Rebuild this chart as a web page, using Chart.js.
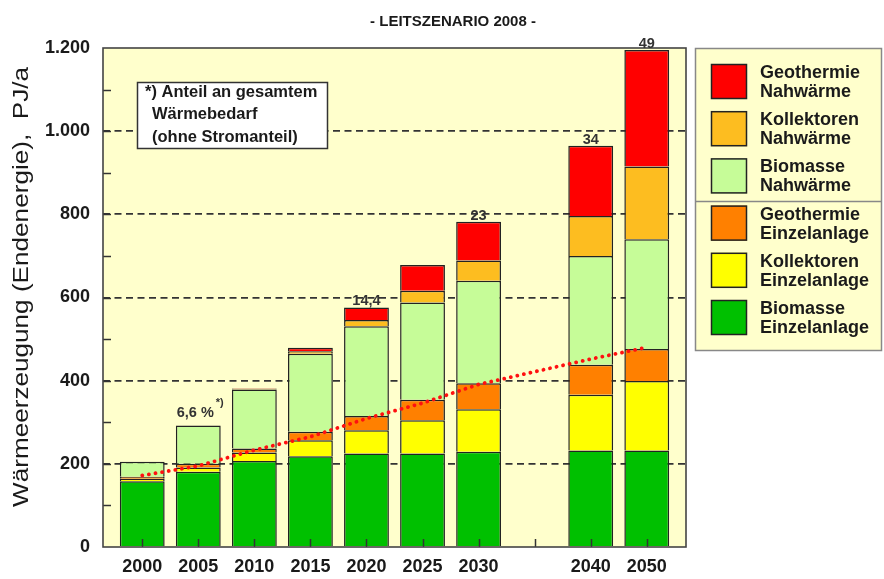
<!DOCTYPE html>
<html>
<head>
<meta charset="utf-8">
<script src="https://cdn.jsdelivr.net/npm/chart.js@4.4.1/dist/chart.umd.min.js"></script>
<style>
  html, body { margin: 0; padding: 0; background: #ffffff; }
  canvas { display: block; }
</style>
</head>
<body>
<canvas id="c" width="884" height="579"></canvas>
<script>
// ---------------- DATA ----------------
const years = ['2000', '2005', '2010', '2015', '2020', '2025', '2030', '2040', '2050'];
const slots = [0, 1, 2, 3, 4, 5, 6, 8, 9];          // 2035 slot left empty
const biomasseEinzel    = [158, 181, 207, 218, 225, 225, 229, 232, 232];
const kollektorenEinzel = [6, 10, 20, 39, 56, 80, 102, 134, 167];
const geothermieEinzel  = [5, 9, 10, 20, 34, 49, 63, 72, 77];
const biomasseNah       = [36, 92, 142, 188, 216, 234, 246, 262, 264];
const kollektorenNah    = [0, 0, 1, 6, 15, 28, 49, 96, 175];
const geothermieNah     = [0, 0, 1, 8, 30, 62, 93, 169, 280];
const trendShare        = [172, 195, 233, 265, 309, 346, 391, 452, 480];
const topLabels         = ['', '6,6 %', '', '', '14,4', '', '23', '34', '49'];
const yTicks            = [0, 200, 400, 600, 800, 1000, 1200];

const seriesNames = [
  ['Biomasse', 'Einzelanlage'],
  ['Kollektoren', 'Einzelanlage'],
  ['Geothermie', 'Einzelanlage'],
  ['Biomasse', 'Nahwärme'],
  ['Kollektoren', 'Nahwärme'],
  ['Geothermie', 'Nahwärme']
];
const seriesValues = [biomasseEinzel, kollektorenEinzel, geothermieEinzel, biomasseNah, kollektorenNah, geothermieNah];
const seriesColors = ['#00c000', '#ffff00', '#ff8000', '#c6fc98', '#fdbd20', '#ff0000'];

const FONT = '"Liberation Sans", Arial, Helvetica, sans-serif';
const pts = arr => arr.map((v, i) => ({ x: slots[i], y: v }));

const datasets = seriesValues.map((vals, k) => ({
  type: 'bar',
  label: seriesNames[k].join(' '),
  data: pts(vals),
  backgroundColor: seriesColors[k],
  borderColor: '#222222',
  borderWidth: 1.5,
  barPercentage: 0.8,
  categoryPercentage: 1.0,
  order: 1
}));
datasets.push({
  type: 'line',
  label: 'Anteil',
  data: pts(trendShare),
  borderColor: '#ff1010',
  borderWidth: 3.8,
  borderDash: [0.1, 6.6],
  borderCapStyle: 'round',
  pointRadius: 0,
  tension: 0,
  fill: false,
  stack: 'trend',
  order: 0
});

const totals = years.map((_, i) => seriesValues.reduce((s, a) => s + a[i], 0));

const deco = {
  id: 'deco',
  beforeDraw(chart) {
    const { ctx, chartArea: a } = chart;
    ctx.save();
    ctx.fillStyle = '#ffffcc';
    ctx.fillRect(a.left, a.top, a.right - a.left, a.bottom - a.top);
    ctx.restore();
  },
  afterDatasetsDraw(chart) {
    const { ctx, chartArea: a, scales } = chart;
    const xs = scales.x, ys = scales.y;
    ctx.save();
    // x tick marks pointing up
    ctx.strokeStyle = '#333';
    ctx.lineWidth = 1.5;
    for (let v = 0; v <= 9; v++) {
      const px = Math.round(xs.getPixelForValue(v)) + 0.5;
      ctx.beginPath(); ctx.moveTo(px, a.bottom); ctx.lineTo(px, a.bottom - 8); ctx.stroke();
    }
    // y minor ticks on left
    for (let v = 100; v < 1200; v += 100) {
      const py = Math.round(ys.getPixelForValue(v)) + 0.5;
      ctx.beginPath(); ctx.moveTo(a.left, py); ctx.lineTo(a.left + 8, py); ctx.stroke();
    }
    // plot border
    ctx.strokeStyle = '#444';
    ctx.lineWidth = 1.6;
    ctx.strokeRect(a.left, a.top, a.right - a.left, a.bottom - a.top);

    // labels above bars
    ctx.fillStyle = '#333';
    ctx.font = 'bold 14.5px ' + FONT;
    ctx.textAlign = 'center';
    ctx.textBaseline = 'alphabetic';
    topLabels.forEach((t, i) => {
      if (!t) return;
      const px = xs.getPixelForValue(slots[i]);
      const py = ys.getPixelForValue(totals[i]);
      if (t.indexOf('%') >= 0) {
        ctx.fillText(t, px - 3, py - 9);
        const w = ctx.measureText(t).width;
        ctx.save();
        ctx.font = 'bold 11px ' + FONT;
        ctx.textAlign = 'left';
        ctx.fillText('*)', px - 3 + w / 2 + 2, py - 20);
        ctx.restore();
      } else {
        ctx.fillText(t, px, py - 2);
      }
    });

    // annotation box
    ctx.fillStyle = '#ffffff';
    ctx.fillRect(137, 82, 190, 66);
    ctx.strokeStyle = '#333';
    ctx.lineWidth = 1.5;
    ctx.strokeRect(137.5, 82.5, 190, 66);
    ctx.fillStyle = '#1a1a1a';
    ctx.font = 'bold 16.5px ' + FONT;
    ctx.textAlign = 'left';
    ctx.textBaseline = 'middle';
    ctx.fillText('*) Anteil an gesamtem', 145, 92);
    ctx.fillText('Wärmebedarf', 152, 114);
    ctx.fillText('(ohne Stromanteil)', 152, 137);
    ctx.restore();
  },
  afterDraw(chart) {
    const { ctx } = chart;
    ctx.save();
    // title
    ctx.fillStyle = '#1a1a1a';
    ctx.font = 'bold 15px ' + FONT;
    ctx.textAlign = 'center';
    ctx.textBaseline = 'middle';
    ctx.fillText('- LEITSZENARIO 2008 -', 453, 22);

    // y axis title (rotated)
    ctx.save();
    ctx.translate(22, 287);
    ctx.rotate(-Math.PI / 2);
    ctx.font = '22px ' + FONT;
    const yt = 'Wärmeerzeugung (Endenergie),  PJ/a';
    const w = ctx.measureText(yt).width;
    ctx.scale(440 / w, 1);
    ctx.fillStyle = '#1a1a1a';
    ctx.textAlign = 'center';
    ctx.textBaseline = 'middle';
    ctx.fillText(yt, 0, 0);
    ctx.restore();

    // legend
    const lx = 695, ly = 48, lw = 187, lh = 302;
    ctx.fillStyle = '#ffffcc';
    ctx.fillRect(lx, ly, lw, lh);
    ctx.strokeStyle = '#888';
    ctx.lineWidth = 1.5;
    ctx.strokeRect(lx + 0.5, ly + 0.5, lw - 1, lh);
    ctx.beginPath(); ctx.moveTo(lx, 201.5); ctx.lineTo(lx + lw, 201.5); ctx.stroke();
    const order = [5, 4, 3, 2, 1, 0];
    order.forEach((k, j) => {
      const top = 64 + j * 47.2;
      ctx.fillStyle = seriesColors[k];
      ctx.fillRect(711, top, 36, 35);
      ctx.strokeStyle = '#222';
      ctx.lineWidth = 1.5;
      ctx.strokeRect(711.5, top + 0.5, 35, 34);
      ctx.fillStyle = '#1a1a1a';
      ctx.font = 'bold 18px ' + FONT;
      ctx.textAlign = 'left';
      ctx.textBaseline = 'middle';
      ctx.fillText(seriesNames[k][0], 760, top + 9);
      ctx.fillText(seriesNames[k][1], 760, top + 28);
    });
    ctx.restore();
  }
};

new Chart(document.getElementById('c'), {
  data: { datasets },
  options: {
    responsive: false,
    animation: false,
    devicePixelRatio: 1,
    layout: { padding: { left: 0, top: 48, right: 198, bottom: 0 } },
    plugins: { legend: { display: false }, tooltip: { enabled: false }, title: { display: false } },
    scales: {
      x: {
        type: 'linear',
        stacked: true,
        offset: false,
        min: -0.7,
        max: 9.7,
        afterFit(s) { s.height = 32; },
        afterBuildTicks(s) { s.ticks = [0, 1, 2, 3, 4, 5, 6, 7, 8, 9].map(v => ({ value: v })); },
        grid: { display: false, drawTicks: false, offset: false },
        border: { display: false },
        ticks: {
          autoSkip: false,
          maxRotation: 0,
          padding: 9,
          color: '#1a1a1a',
          font: { family: FONT, size: 18, weight: 'bold' },
          callback(v) { const i = slots.indexOf(v); return i >= 0 ? years[i] : ''; }
        }
      },
      y: {
        stacked: true,
        min: 0,
        max: 1200,
        afterFit(s) { s.width = 103; },
        afterBuildTicks(s) { s.ticks = yTicks.map(v => ({ value: v })); },
        grid: {
          drawTicks: false,
          lineWidth: 1.8,
          color(c) { const v = c.tick && c.tick.value; return (v === 0 || v === 1200) ? 'rgba(0,0,0,0)' : '#333'; }
        },
        border: { display: false, dash: [7, 4.5] },
        ticks: {
          padding: 13,
          color: '#1a1a1a',
          font: { family: FONT, size: 18, weight: 'bold' },
          callback(v) { return v >= 1000 ? Math.floor(v / 1000) + '.' + String(v % 1000).padStart(3, '0') : String(v); }
        }
      }
    }
  },
  plugins: [deco]
});
</script>
</body>
</html>
